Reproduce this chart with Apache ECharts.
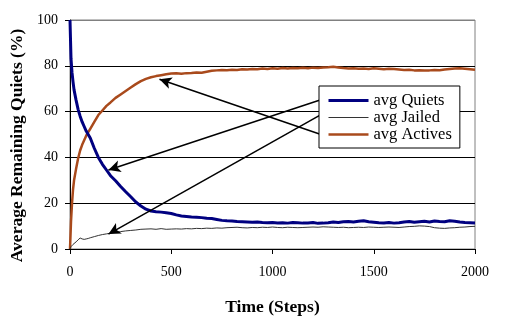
<!DOCTYPE html>
<html>
<head>
<meta charset="utf-8">
<script src="https://cdn.jsdelivr.net/npm/echarts@6/dist/echarts.min.js"></script>
<style>html,body{margin:0;padding:0;background:#fff;}#c{width:510px;height:334px;}</style>
</head>
<body>
<div id="c"></div>
<script>
var steps = [0,5,10,15,20,30,40,50,60,70,80,90,100,120,140,160,180,200,
  225,250,275,300,325,350,375,400,425,450,475,500,
  525,550,575,600,625,650,675,700,725,750,775,800,825,850,875,900,925,950,975,1000,
  1025,1050,1075,1100,1125,1150,1175,1200,1225,1250,1275,1300,1325,1350,1375,1400,1425,1450,1475,1500,
  1525,1550,1575,1600,1625,1650,1675,1700,1725,1750,1775,1800,1825,1850,1875,1900,1925,1950,1975,2000];

var quiets = [100,83,77,73,69.5,65,61,58,55.5,53.5,51.5,50,48.5,44,40,37,34.5,32,
  29.8,27.3,25,22.8,20.5,18.8,17.4,16.6,16.3,16.1,15.8,15.5,
  14.9,14.4,14.2,14.0,13.9,13.7,13.4,13.3,12.9,12.5,12.3,12.2,12.0,11.9,11.8,11.7,11.8,11.6,11.5,11.6,
  11.4,11.5,11.3,11.6,11.5,11.3,11.4,11.6,11.2,11.3,11.5,11.8,11.6,11.9,12.0,11.8,12.1,12.3,11.9,11.7,
  11.5,11.4,11.6,11.3,11.5,11.8,12.0,11.7,11.9,12.1,11.8,12.2,12.0,11.9,12.3,12.1,11.8,11.6,11.5,11.4];

var jailed = [0,1,1.6,2,2.4,3.1,4,4.8,4.4,4.2,4.4,4.6,4.9,5.4,5.9,6.3,6.6,6.9,
  7.3,7.6,7.9,8.1,8.3,8.6,8.7,8.8,8.6,8.9,8.6,8.7,
  8.8,8.7,8.9,8.8,9.0,8.9,9.1,9.0,9.2,9.1,9.3,9.4,9.5,9.3,9.2,9.4,9.3,9.5,9.4,9.6,
  9.4,9.3,9.5,9.4,9.3,9.4,9.5,9.6,9.5,9.7,9.6,9.5,9.4,9.5,9.3,9.4,9.5,9.4,9.6,9.5,
  9.4,9.5,9.6,9.5,9.4,9.6,9.8,9.9,10.1,10.0,9.8,9.3,9.1,9.0,9.2,9.3,9.5,9.6,9.8,9.9];

var actives = [0,12,20,26,30,35,39.5,43,45.5,47.5,49.5,51,52.5,55.5,58.5,60.5,62.5,64,
  66,67.5,69,70.5,72,73.3,74.3,75,75.5,75.9,76.3,76.6,
  76.7,76.5,76.8,76.9,77.1,77.0,77.4,77.8,78.0,78.2,78.1,78.3,78.2,78.5,78.4,78.6,78.5,78.8,78.6,78.9,
  78.7,79.0,78.8,79.0,78.9,79.1,78.9,79.2,79.0,79.3,79.4,79.6,79.3,79.0,78.8,78.9,78.7,78.8,78.6,78.9,
  78.7,78.5,78.7,78.6,78.4,78.2,78.3,78.0,78.1,77.9,78.0,78.2,78.1,78.4,78.6,78.8,78.9,78.7,78.5,78.3];

var seriesNames = ['avg Quiets','avg Jailed','avg Actives'];
var xTicks = [0,500,1000,1500,2000];
var yTicks = [0,20,40,60,80,100];

// arrow annotations: [tail(step,value), tip(step,value)]
var arrowQuiets = [[1235,65.1],[190,34.5]];
var arrowJailed = [[1235,58.5],[190,6.5]];
var arrowActives = [[1232,50.2],[442,74.1]];

function pairs(vals){ return steps.map(function(s,i){ return [s, vals[i]]; }); }
function arrow(a){ return [{coord:a[0]},{coord:a[1]}]; }

var FONT = 'Liberation Serif';
var COLORS = ['#000080', '#333333', '#A94A1C'];
var WIDTHS = [3, 1, 2.5];
var chart = echarts.init(document.getElementById('c'), null, {renderer:'canvas'});
chart.setOption({
  animation: false,
  backgroundColor: '#fff',
  textStyle: {fontFamily: FONT, color: '#000'},
  grid: {left: 70, right: 35, top: 20, bottom: 85, show: true, borderColor: '#808080', borderWidth: 1, backgroundColor: 'transparent'},
  legend: {
    data: seriesNames.map(function(n, i){ return {name: n, lineStyle: {width: WIDTHS[i], color: COLORS[i]}}; }),
    orient: 'vertical',
    left: 319, top: 86,
    backgroundColor: '#fff',
    borderColor: '#000', borderWidth: 1, borderRadius: 0,
    padding: [6, 8, 5, 8],
    itemWidth: 40, itemHeight: 12, itemGap: 0,
    itemStyle: {opacity: 0},
    textStyle: {fontFamily: FONT, fontSize: 16.5, color: '#000', lineHeight: 17},
    selectedMode: false,
    z: 10
  },
  xAxis: {
    type: 'value', min: xTicks[0], max: xTicks[xTicks.length-1], interval: 500,
    name: 'Time (Steps)', nameLocation: 'middle', nameGap: 49,
    nameTextStyle: {fontFamily: FONT, fontSize: 17.5, fontWeight: 'bold', color: '#000'},
    axisLine: {show: true, lineStyle: {color: '#000', width: 1}},
    axisTick: {show: true, length: 5, inside: false, lineStyle: {color: '#000'}},
    axisLabel: {fontFamily: FONT, fontSize: 14, color: '#000', margin: 16, formatter: function(v){ return String(v); }},
    splitLine: {show: false}
  },
  yAxis: {
    type: 'value', min: yTicks[0], max: yTicks[yTicks.length-1], interval: 20,
    name: 'Average Remaining Quiets (%)', nameLocation: 'middle', nameGap: 42,
    nameTextStyle: {fontFamily: FONT, fontSize: 17.5, fontWeight: 'bold', color: '#000', padding: [0, 22, 0, 0]},
    axisLine: {show: true, lineStyle: {color: '#000', width: 1}},
    axisTick: {show: true, length: 5, inside: false, lineStyle: {color: '#000'}},
    axisLabel: {fontFamily: FONT, fontSize: 14, color: '#000', margin: 12},
    splitLine: {show: true, lineStyle: {color: ['#000','#000','#000','#000','#000','#808080'], width: 1}}
  },
  series: [
    {name: seriesNames[0], type: 'line', data: pairs(quiets), symbol: 'none', showSymbol: false,
     lineStyle: {color: COLORS[0], width: WIDTHS[0]}, itemStyle: {color: COLORS[0]}, z: 4},
    {name: seriesNames[1], type: 'line', data: pairs(jailed), symbol: 'none', showSymbol: false,
     lineStyle: {color: COLORS[1], width: WIDTHS[1]}, itemStyle: {color: COLORS[1]}, z: 3},
    {name: seriesNames[2], type: 'line', data: pairs(actives), symbol: 'none', showSymbol: false,
     lineStyle: {color: COLORS[2], width: WIDTHS[2]}, itemStyle: {color: COLORS[2]}, z: 2},
    {name: 'arrows', type: 'line', data: [], z: 6,
     markLine: {silent: true, symbol: ['none','arrow'], symbolSize: [9, 12],
       label: {show: false},
       lineStyle: {color: '#000', width: 1.5, type: 'solid'},
       emphasis: {disabled: true},
       data: [arrow(arrowQuiets), arrow(arrowJailed), arrow(arrowActives)]}}
  ]
});
</script>
</body>
</html>
